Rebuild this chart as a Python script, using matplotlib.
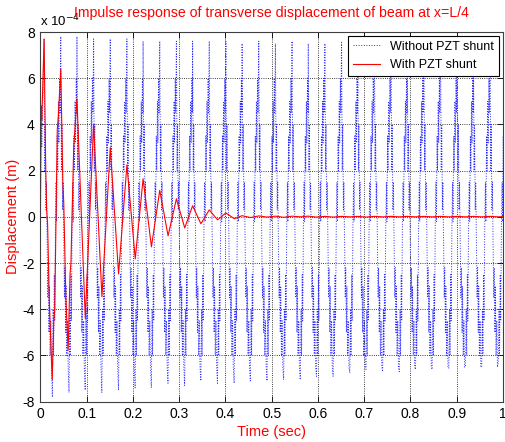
import matplotlib
matplotlib.use("Agg")
import matplotlib.pyplot as plt

plt.rcParams['font.family'] = ['Liberation Sans', 'DejaVu Sans']

# times of the blue maxima (one per cycle) and the peak / trough levels, in 1e-4 m
blue_top_t = [0.008, 0.044, 0.079, 0.115, 0.151, 0.187, 0.222, 0.258, 0.294, 0.329,
              0.365, 0.401, 0.436, 0.472, 0.508, 0.544, 0.579, 0.615, 0.651, 0.686,
              0.722, 0.758, 0.793, 0.829, 0.865, 0.901, 0.936, 0.972]
blue_top_y = [7.7, 7.8, 7.8, 7.7, 7.7, 7.7, 7.6, 7.6, 7.6, 7.6, 7.6, 7.6, 7.5, 7.6,
              7.5, 7.6, 7.5, 7.5, 7.6, 7.5, 7.6, 7.5, 7.6, 7.5, 7.5, 7.6, 7.5, 7.5]
blue_bot_y = [-7.8, -7.6, -7.5, -7.6, -7.5, -7.4, -7.4, -7.2, -7.3, -7.1, -7.2, -7.2,
              -7.1, -7.1, -7.05, -7.05, -6.9, -6.9, -6.75, -6.6, -6.7, -6.7, -6.6,
              -6.6, -6.55, -6.5, -6.5, -6.3]
# typical wiggle inside one cycle (time after the maximum, level); None = trough
cycle_dt = [0.0015, 0.0025, 0.0040, 0.0050, 0.0065, 0.0080, 0.0090, 0.0105, 0.0115,
            0.0130, 0.0145, 0.0160, 0.0178, 0.0195, 0.0205, 0.0220, 0.0230, 0.0245,
            0.0260, 0.0270, 0.0285, 0.0295, 0.0310, 0.0320, 0.0335, 0.0345]
cycle_y = [2.0, 4.0, 0.3, 1.5, -1.0, -3.5, -2.2, -5.0, -3.0, -6.0, -4.5, -6.5, None,
           -4.0, -6.0, -2.5, -4.5, -0.5, 1.5, -0.2, 3.5, 2.0, 5.0, 3.2, 6.0, 4.5]
blue_start_t = [0.0, 0.0015, 0.003]
blue_start_y = [0.0, 4.5, 3.0]

# shunted beam, decaying response
red_t = [0.0, 0.0015, 0.003, 0.008, 0.0115, 0.0135, 0.0155, 0.0195, 0.0255, 0.029,
         0.031, 0.0365, 0.039, 0.044, 0.0485, 0.0505, 0.055, 0.060, 0.064, 0.066,
         0.072, 0.079, 0.097, 0.115, 0.133, 0.151, 0.169, 0.187, 0.205, 0.222,
         0.240, 0.258, 0.276, 0.294, 0.312, 0.329, 0.347, 0.365, 0.383, 0.401,
         0.419, 0.436, 0.454, 0.472, 0.490, 0.508, 0.526, 0.544, 0.562, 0.579,
         0.597, 0.615, 0.633, 0.651, 0.669, 0.686, 0.704, 0.722, 0.740, 0.758,
         0.776, 0.793, 0.811, 0.829, 0.847, 0.865, 0.883, 0.901, 0.919, 0.936,
         0.954, 0.972, 0.990, 1.0]
red_y = [0.0, 4.8, 4.2, 7.7, 2.0, 0.3, -0.3, -3.8, -7.05, -4.5,
         -4.0, 3.8, 4.4, 6.4, 1.5, 0.6, -3.5, -5.76, -2.5, -2.0,
         3.0, 5.1, -4.4, 4.0, -3.46, 3.0, -2.47, 2.25, -1.82, 1.65,
         -1.3, 1.15, -0.82, 0.78, -0.48, 0.48, -0.3, 0.3, -0.13, 0.17,
         -0.08, 0.05, -0.03, 0.04, -0.01, 0.03, -0.02, 0.03, 0.0, 0.03,
         -0.01, 0.02, -0.01, 0.02, 0.0, 0.02, -0.01, 0.02, 0.0, 0.02,
         0.0, 0.02, 0.0, 0.02, 0.0, 0.02, 0.0, 0.02, 0.0, 0.02,
         0.0, 0.02, 0.0, 0.01]

bt, by = list(blue_start_t), list(blue_start_y)
for T, top, bot in zip(blue_top_t, blue_top_y, blue_bot_y):
    bt.append(T)
    by.append(top)
    for dt, v in zip(cycle_dt, cycle_y):
        bt.append(T + dt)
        by.append(bot if v is None else v)

fig = plt.figure(figsize=(5.06, 4.42), dpi=100)
ax = fig.add_axes([40.4 / 506, 40.3 / 442, 462.6 / 506, 369.7 / 442])

ax.plot(bt, by, color='#2a2aff', linestyle=':', linewidth=0.7, label='Without PZT shunt')
ax.plot(red_t, red_y, color='#ff0000', linestyle='-', linewidth=0.8, label='With PZT shunt')

ax.set_xlim(0, 1)
ax.set_ylim(-8, 8)
ax.set_xticks([i / 10 for i in range(11)])
ax.set_xticklabels(['0', '0.1', '0.2', '0.3', '0.4', '0.5', '0.6', '0.7', '0.8', '0.9', '1'])
ax.set_yticks(range(-8, 9, 2))
ax.set_yticklabels([str(v) for v in range(-8, 9, 2)])
ax.tick_params(direction='in', length=4, labelsize=10, width=0.6, pad=4,
               top=True, right=True)
ax.grid(True, color='black', linestyle=':', linewidth=0.6)
for s in ax.spines.values():
    s.set_color('#404040')
    s.set_linewidth(0.8)

ax.text(0.0, 1.006, r'x 10$^{-4}$', transform=ax.transAxes, fontsize=9.5,
        ha='left', va='bottom')
ax.text(0.5, 1.032, 'Impulse response of transverse displacement of beam at x=L/4',
        transform=ax.transAxes, color='red', fontsize=10.2, ha='center', va='bottom')
ax.set_xlabel('Time (sec)', color='red', fontsize=10.5, labelpad=3)
ax.set_ylabel('Displacement (m)', color='red', fontsize=10.5, labelpad=2)

leg = ax.legend(loc='upper right', fontsize=9, fancybox=False, framealpha=1,
                edgecolor='black', handlelength=2.2, borderaxespad=0.3)
leg.get_frame().set_linewidth(0.8)

fig.savefig('out.png', dpi=100)
